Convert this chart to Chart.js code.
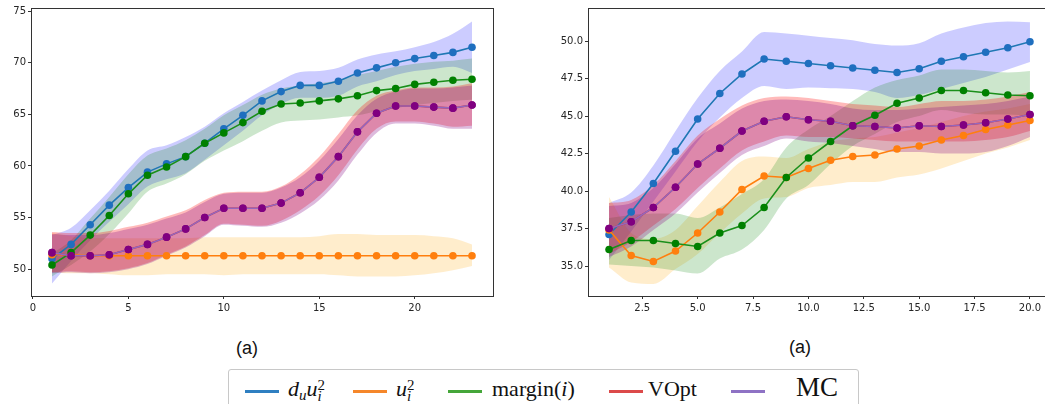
<!DOCTYPE html>
<html>
<head>
<meta charset="utf-8">
<script src="https://cdn.jsdelivr.net/npm/chart.js@4.4.1/dist/chart.umd.min.js"></script>
<style>
  html, body { margin: 0; padding: 0; background: #fff; overflow: hidden; width: 1045px; height: 404px; }
  canvas { position: absolute; top: 0; }
  #leftChart { left: 0; }
  #rightChart { left: 540px; }
  .cap { position: absolute; font-family: "Liberation Sans", Arial, sans-serif; font-size: 18px; color: #111; line-height: 1; }
  #legend { position: absolute; left: 228px; top: 369px; width: 629px; height: 60px; border: 1px solid #c8c8c8; border-radius: 3px; }
  .sw { position: absolute; height: 3px; top: 20px; }
  .lt { position: absolute; font-family: "Liberation Serif", "Times New Roman", serif; font-size: 22px; color: #111; line-height: 1; white-space: nowrap; }
  .lt i { font-style: italic; }
  .ss { display: inline-block; vertical-align: -0.35em; line-height: 0.75; font-size: 0.68em; text-align: left; }
  .ss span { display: block; }
  .sub { font-size: 0.68em; vertical-align: -0.3em; }
</style>
</head>
<body>
<canvas id="leftChart" width="500" height="320"></canvas>
<canvas id="rightChart" width="520" height="320"></canvas>
<div class="cap" style="left:236px; top:339px;">(a)</div>
<div class="cap" style="left:789px; top:338px;">(a)</div>
<div id="legend">
  <div class="sw" style="left:16px; width:34px; background:#2f7fc1;"></div>
  <div class="lt" style="left:59px; top:8px;"><i>d</i><i class="sub">u</i><i>u</i><span class="ss"><span>2</span><span><i>i</i></span></span></div>
  <div class="sw" style="left:124px; width:34px; background:#f5872a;"></div>
  <div class="lt" style="left:167px; top:8px;"><i>u</i><span class="ss"><span>2</span><span><i>i</i></span></span></div>
  <div class="sw" style="left:219px; width:34px; background:#45a63a;"></div>
  <div class="lt" style="left:263px; top:8px;">margin(<i>i</i>)</div>
  <div class="sw" style="left:380px; width:34px; background:#dc4a4a;"></div>
  <div class="lt" style="left:419px; top:8px;">VOpt</div>
  <div class="sw" style="left:502px; width:34px; background:#8e72c4;"></div>
  <div class="lt" style="left:567px; top:4px; font-size:27px;">MC</div>
</div>
<script>
// ---- left panel (23 steps) ----
const leftSteps = [1, 2, 3, 4, 5, 6, 7, 8, 9, 10, 11, 12, 13, 14, 15, 16, 17, 18, 19, 20, 21, 22, 23];
const leftXTicks = [0, 5, 10, 15, 20];
const leftYTicks = [50, 55, 60, 65, 70, 75];

const leftDuU2   = [51.0, 52.4, 54.3, 56.2, 57.9, 59.4, 60.2, 60.9, 62.2, 63.6, 64.9, 66.3, 67.2, 67.8, 67.8, 68.2, 69.0, 69.5, 70.0, 70.4, 70.7, 71.0, 71.5];
const leftDuU2Hi = [53.3, 54.0, 55.7, 57.6, 59.7, 61.5, 62.0, 62.8, 63.8, 65.1, 66.2, 67.3, 68.3, 69.1, 69.2, 69.5, 70.3, 70.8, 71.1, 71.5, 72.0, 72.8, 74.0];
const leftDuU2Lo = [48.6, 50.8, 52.8, 54.6, 56.3, 58.0, 58.7, 59.3, 60.6, 62.0, 63.4, 64.9, 66.0, 66.6, 66.6, 66.8, 67.7, 68.2, 68.8, 69.2, 69.4, 69.6, 69.0];

const leftU2   = [51.4, 51.4, 51.3, 51.3, 51.3, 51.3, 51.3, 51.3, 51.3, 51.3, 51.3, 51.3, 51.3, 51.3, 51.3, 51.3, 51.3, 51.3, 51.3, 51.3, 51.3, 51.3, 51.3];
const leftU2Hi = [53.5, 53.2, 53.0, 53.0, 53.0, 53.0, 53.0, 53.0, 53.1, 53.1, 53.1, 53.1, 53.1, 53.1, 53.2, 53.4, 53.4, 53.3, 53.3, 53.3, 53.2, 53.0, 52.4];
const leftU2Lo = [49.7, 49.6, 49.6, 49.5, 49.4, 49.4, 49.5, 49.5, 49.5, 49.4, 49.5, 49.5, 49.5, 49.5, 49.5, 49.4, 49.3, 49.3, 49.3, 49.4, 49.6, 49.9, 50.3];

const leftMargin   = [50.4, 51.6, 53.3, 55.2, 57.3, 59.1, 59.9, 60.9, 62.2, 63.2, 64.2, 65.3, 66.0, 66.1, 66.3, 66.5, 66.8, 67.3, 67.5, 67.9, 68.1, 68.3, 68.4];
const leftMarginHi = [51.5, 52.8, 54.9, 57.0, 59.2, 61.0, 61.7, 62.5, 63.6, 64.9, 65.9, 66.9, 67.5, 67.8, 68.0, 68.3, 68.8, 69.2, 69.6, 69.9, 70.1, 70.2, 70.4];
const leftMarginLo = [49.3, 50.4, 51.7, 53.4, 55.4, 57.5, 58.3, 59.2, 60.5, 61.5, 62.4, 63.4, 64.2, 64.4, 64.5, 64.7, 64.9, 65.3, 65.6, 65.9, 66.1, 66.3, 66.4];

const leftVOpt   = [51.6, 51.3, 51.3, 51.4, 51.9, 52.4, 53.1, 53.9, 55.0, 55.9, 55.9, 55.9, 56.4, 57.4, 58.9, 60.9, 63.3, 65.1, 65.8, 65.8, 65.7, 65.6, 65.9];
const leftVOptHi = [53.6, 53.5, 53.5, 53.7, 54.1, 54.5, 55.1, 55.7, 56.7, 57.4, 57.5, 57.5, 58.0, 59.2, 60.9, 63.1, 65.4, 66.8, 67.3, 67.6, 67.6, 67.7, 68.0];
const leftVOptLo = [49.7, 49.8, 49.7, 49.8, 50.1, 50.6, 51.4, 52.2, 53.3, 54.4, 54.3, 54.2, 54.7, 55.7, 57.1, 59.1, 61.6, 63.6, 64.3, 64.3, 64.1, 63.8, 63.9];

const leftMC   = [51.6, 51.3, 51.3, 51.4, 51.9, 52.4, 53.1, 53.9, 55.0, 55.9, 55.9, 55.9, 56.4, 57.4, 58.9, 60.9, 63.3, 65.1, 65.8, 65.8, 65.7, 65.6, 65.9];
const leftMCHi = [53.4, 53.3, 53.3, 53.5, 53.9, 54.3, 54.9, 55.5, 56.5, 57.3, 57.4, 57.4, 57.9, 58.9, 60.5, 62.6, 64.9, 66.5, 67.2, 67.5, 67.5, 67.6, 67.8];
const leftMCLo = [49.6, 49.7, 49.6, 49.7, 50.0, 50.5, 51.3, 52.1, 53.2, 54.3, 54.2, 54.1, 54.5, 55.4, 56.7, 58.6, 61.1, 63.2, 64.1, 64.1, 63.9, 63.6, 63.6];

// ---- right panel (20 steps) ----
const rightSteps = [1, 2, 3, 4, 5, 6, 7, 8, 9, 10, 11, 12, 13, 14, 15, 16, 17, 18, 19, 20];
const rightXTicks = [2.5, 5.0, 7.5, 10.0, 12.5, 15.0, 17.5, 20.0];
const rightYTicks = [35.0, 37.5, 40.0, 42.5, 45.0, 47.5, 50.0];

const rightDuU2   = [37.1, 38.6, 40.5, 42.65, 44.8, 46.5, 47.8, 48.8, 48.65, 48.5, 48.35, 48.2, 48.05, 47.9, 48.15, 48.65, 48.95, 49.25, 49.55, 49.95];
const rightDuU2Hi = [39.2, 39.9, 41.7, 44.0, 46.2, 48.0, 49.3, 50.6, 50.5, 50.35, 50.2, 50.05, 49.8, 49.7, 49.85, 50.5, 50.9, 51.2, 51.3, 51.25];
const rightDuU2Lo = [35.4, 37.3, 39.3, 41.3, 43.3, 44.9, 46.2, 47.0, 46.8, 46.9, 46.85, 46.8, 46.6, 46.2, 46.4, 46.8, 47.2, 47.6, 48.1, 48.6];

const rightU2   = [37.4, 35.7, 35.3, 36.0, 37.2, 38.6, 40.1, 41.0, 40.9, 41.5, 42.05, 42.3, 42.4, 42.8, 43.0, 43.4, 43.7, 44.1, 44.4, 44.7];
const rightU2Hi = [39.6, 37.2, 36.8, 37.4, 39.0, 40.6, 42.0, 42.3, 42.2, 42.8, 43.3, 43.5, 43.6, 43.9, 44.2, 44.6, 45.0, 45.3, 45.5, 45.8];
const rightU2Lo = [34.9, 33.9, 33.8, 34.8, 35.8, 37.2, 38.5, 39.5, 39.6, 40.2, 40.4, 40.6, 40.6, 40.9, 41.1, 41.5, 42.0, 42.5, 42.9, 43.4];

const rightMargin   = [36.1, 36.7, 36.7, 36.5, 36.3, 37.2, 37.7, 38.9, 40.9, 42.2, 43.3, 44.35, 45.05, 45.85, 46.2, 46.7, 46.7, 46.55, 46.4, 46.35];
const rightMarginHi = [38.2, 38.4, 38.5, 38.5, 38.2, 38.9, 39.8, 40.8, 42.9, 44.1, 45.0, 46.0, 46.9, 47.4, 47.7, 48.1, 48.1, 48.0, 47.9, 48.0];
const rightMarginLo = [35.1, 35.0, 34.9, 34.7, 34.5, 35.5, 36.1, 37.4, 39.5, 40.4, 41.8, 43.0, 43.8, 44.6, 45.0, 45.4, 45.2, 45.1, 45.1, 45.0];

const rightVOpt   = [37.5, 37.95, 38.9, 40.25, 41.8, 42.85, 44.0, 44.65, 44.95, 44.75, 44.65, 44.35, 44.3, 44.2, 44.35, 44.3, 44.4, 44.55, 44.8, 45.1];
const rightVOptHi = [39.2, 39.4, 40.4, 42.0, 43.7, 44.8, 45.7, 46.2, 46.3, 46.2, 46.0, 45.8, 45.7, 45.6, 45.8, 46.0, 46.0, 46.1, 46.3, 46.6];
const rightVOptLo = [35.8, 36.6, 37.7, 38.8, 40.2, 41.5, 42.7, 43.3, 43.7, 43.6, 43.6, 43.5, 43.4, 43.3, 43.3, 43.3, 43.3, 43.4, 43.6, 44.0];

const rightMC   = [37.5, 37.95, 38.9, 40.25, 41.8, 42.85, 44.0, 44.65, 44.95, 44.75, 44.65, 44.35, 44.3, 44.2, 44.35, 44.3, 44.4, 44.55, 44.8, 45.1];
const rightMCHi = [39.0, 39.2, 40.2, 41.8, 43.5, 44.5, 45.5, 46.0, 46.1, 46.0, 45.8, 45.5, 45.4, 45.4, 45.5, 45.6, 45.7, 45.8, 46.0, 46.3];
const rightMCLo = [35.6, 36.3, 37.4, 38.5, 39.9, 41.2, 42.4, 43.0, 43.5, 43.3, 43.2, 43.0, 42.8, 42.6, 42.6, 42.5, 42.5, 42.6, 43.0, 43.6];

// line colour, marker colour, band colour per method
const styles = {
  duU2:   { line: '#1f77b4', dot: '#1f6fbf', band: 'rgba(0,0,255,0.2)' },
  u2:     { line: '#ff7f0e', dot: '#ff7f0e', band: 'rgba(255,165,0,0.2)' },
  margin: { line: '#1a8f1a', dot: '#008000', band: 'rgba(0,128,0,0.2)' },
  vopt:   { line: '#d62728', dot: '#800080', band: 'rgba(255,0,0,0.27)' },
  mc:     { line: '#9467bd', dot: '#800080', band: 'rgba(128,0,128,0.27)' }
};

const pts = (xs, ys) => xs.map((x, i) => ({ x: x, y: ys[i] }));

function buildDatasets(xs, series) {
  const ds = [];
  // bands first, then lines on top (lower order = drawn later)
  series.forEach((s, k) => {
    const st = styles[s.key];
    const loIdx = ds.length;
    ds.push({ data: pts(xs, s.lo), borderWidth: 0, pointRadius: 0, fill: false, cubicInterpolationMode: 'monotone', order: 100 - k * 2 });
    ds.push({ data: pts(xs, s.hi), borderWidth: 0, pointRadius: 0, fill: loIdx, backgroundColor: st.band, cubicInterpolationMode: 'monotone', order: 99 - k * 2 });
  });
  series.forEach((s, k) => {
    const st = styles[s.key];
    ds.push({
      data: pts(xs, s.mean), borderColor: st.line, borderWidth: 1.6, fill: false, tension: 0,
      pointRadius: 3.8, pointBackgroundColor: st.dot, pointBorderWidth: 0, order: 20 - k
    });
  });
  return ds;
}

const frame = {
  id: 'frame',
  afterDraw(chart) {
    const a = chart.chartArea, ctx = chart.ctx;
    ctx.save();
    ctx.strokeStyle = '#333';
    ctx.lineWidth = 1;
    ctx.strokeRect(Math.round(a.left) + 0.5, Math.round(a.top) + 0.5, Math.round(a.right - a.left), Math.round(a.bottom - a.top));
    ctx.restore();
  }
};

function makeChart(id, xs, series, ax) {
  const tickFont = { family: 'DejaVu Sans', size: 10 };
  new Chart(document.getElementById(id), {
    type: 'line',
    data: { datasets: buildDatasets(xs, series) },
    options: {
      responsive: false, animation: false, devicePixelRatio: 1,
      layout: { padding: ax.padding },
      plugins: { legend: { display: false }, tooltip: { enabled: false } },
      scales: {
        x: {
          type: 'linear', min: ax.xMin, max: ax.xMax,
          afterBuildTicks: s => { s.ticks = ax.xTicks.map(v => ({ value: v })); },
          afterFit: s => { s.height = 24; },
          ticks: { callback: ax.fmtX, font: tickFont, color: '#262626', padding: 3, maxRotation: 0, autoSkip: false },
          grid: { drawOnChartArea: false, drawTicks: true, tickLength: 3, color: '#333' },
          border: { display: false }
        },
        y: {
          min: ax.yMin, max: ax.yMax,
          afterBuildTicks: s => { s.ticks = ax.yTicks.map(v => ({ value: v })); },
          afterFit: s => { s.width = ax.yWidth; },
          ticks: { callback: ax.fmtY, font: tickFont, color: '#262626', padding: 2, autoSkip: false },
          grid: { drawOnChartArea: false, drawTicks: true, tickLength: 3, color: '#333' },
          border: { display: false }
        }
      }
    },
    plugins: [frame]
  });
}

makeChart('leftChart', leftSteps, [
  { key: 'duU2', mean: leftDuU2, lo: leftDuU2Lo, hi: leftDuU2Hi },
  { key: 'u2', mean: leftU2, lo: leftU2Lo, hi: leftU2Hi },
  { key: 'margin', mean: leftMargin, lo: leftMarginLo, hi: leftMarginHi },
  { key: 'vopt', mean: leftVOpt, lo: leftVOptLo, hi: leftVOptHi },
  { key: 'mc', mean: leftMC, lo: leftMCLo, hi: leftMCHi }
], {
  xMin: -0.1, xMax: 24.1, yMin: 47.4, yMax: 75.3,
  xTicks: leftXTicks, yTicks: leftYTicks, yWidth: 31,
  fmtX: v => String(v), fmtY: v => String(v),
  padding: { top: 8, right: 7, left: 0, bottom: 0 }
});

makeChart('rightChart', rightSteps, [
  { key: 'duU2', mean: rightDuU2, lo: rightDuU2Lo, hi: rightDuU2Hi },
  { key: 'u2', mean: rightU2, lo: rightU2Lo, hi: rightU2Hi },
  { key: 'margin', mean: rightMargin, lo: rightMarginLo, hi: rightMarginHi },
  { key: 'vopt', mean: rightVOpt, lo: rightVOptLo, hi: rightVOptHi },
  { key: 'mc', mean: rightMC, lo: rightMCLo, hi: rightMCHi }
], {
  xMin: 0.05, xMax: 20.95, yMin: 33.0, yMax: 52.2,
  xTicks: rightXTicks, yTicks: rightYTicks, yWidth: 48,
  fmtX: v => v.toFixed(1), fmtY: v => v.toFixed(1),
  padding: { top: 7, right: 9, left: 0, bottom: 0 }
});
</script>
</body>
</html>
